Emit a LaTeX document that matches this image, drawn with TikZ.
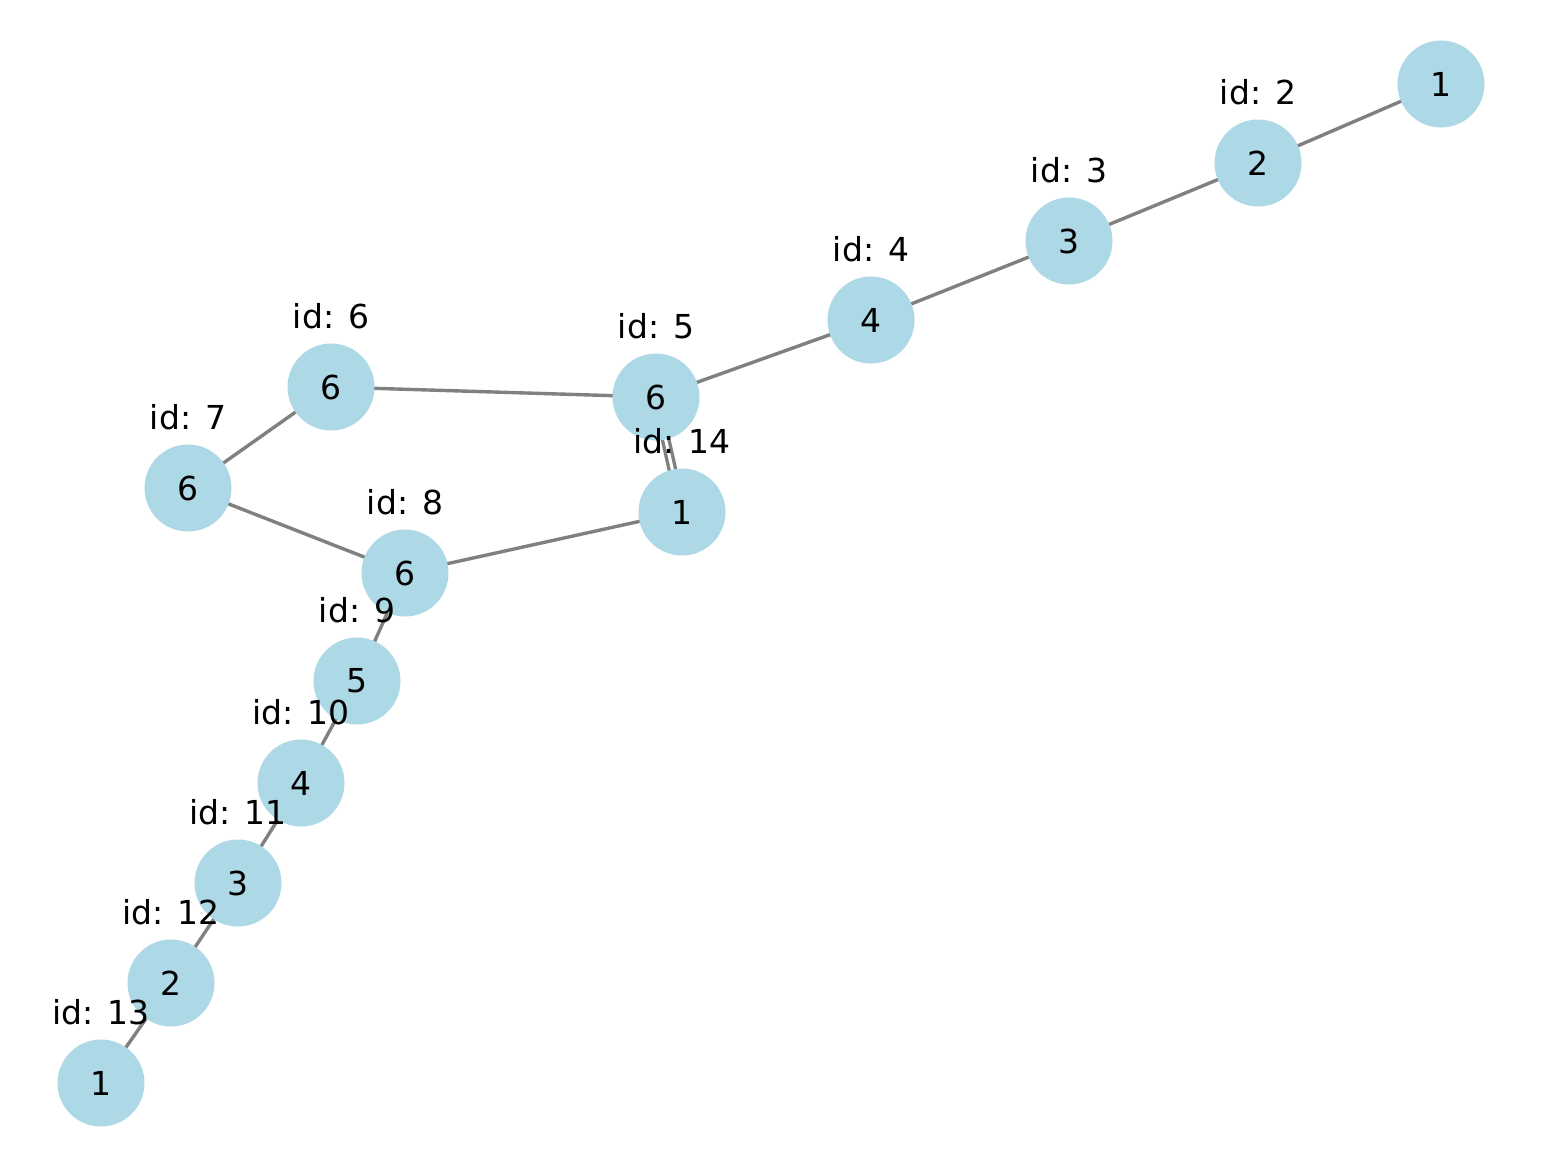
\documentclass[tikz,border=0pt]{standalone}
\usepackage{fontspec}
\setmainfont{DejaVu Sans}
\definecolor{nodeblue}{HTML}{ADD8E6}
\definecolor{edgegray}{HTML}{808080}
\begin{document}
\begin{tikzpicture}[x=1pt,y=-1pt,
  vert/.style={circle, fill=nodeblue, minimum size=87pt, inner sep=0pt, font=\fontsize{33}{40}\selectfont},
  idlabel/.style={font=\fontsize{33}{40}\selectfont, inner sep=0pt, anchor=center},
  edge/.style={draw=edgegray, line width=3.4pt}]
\useasboundingbox (0,0) rectangle (1548,1168);
% positions
\coordinate (p1) at (1441,84);
\coordinate (p2) at (1258,163);
\coordinate (p3) at (1069,241);
\coordinate (p4) at (871,320);
\coordinate (p5) at (656,397);
\coordinate (p6) at (331,387);
\coordinate (p7) at (188,488);
\coordinate (p8) at (405,573);
\coordinate (p9) at (357,681);
\coordinate (p10) at (301,783);
\coordinate (p11) at (238,883);
\coordinate (p12) at (171,983);
\coordinate (p13) at (101,1083);
\coordinate (p14) at (682,512);
% edges
\draw[edge] (p1) -- (p2);
\draw[edge] (p2) -- (p3);
\draw[edge] (p3) -- (p4);
\draw[edge] (p4) -- (p5);
\draw[edge] (p5) -- (p6);
\draw[edge] (p6) -- (p7);
\draw[edge] (p7) -- (p8);
\draw[edge] (p8) -- (p14);
\draw[edge, double=white, double distance=3pt] (p5) -- (p14);
\draw[edge] (p8) -- (p9);
\draw[edge] (p9) -- (p10);
\draw[edge] (p10) -- (p11);
\draw[edge] (p11) -- (p12);
\draw[edge] (p12) -- (p13);
% nodes
\node[vert] (n1) at (p1) {1};
\node[vert] (n2) at (p2) {2};
\node[vert] (n3) at (p3) {3};
\node[vert] (n4) at (p4) {4};
\node[vert] (n5) at (p5) {6};
\node[vert] (n6) at (p6) {6};
\node[vert] (n7) at (p7) {6};
\node[vert] (n8) at (p8) {6};
\node[vert] (n9) at (p9) {5};
\node[vert] (n10) at (p10) {4};
\node[vert] (n11) at (p11) {3};
\node[vert] (n12) at (p12) {2};
\node[vert] (n13) at (p13) {1};
\node[vert] (n14) at (p14) {1};
% labels
\node[idlabel] (l2) at ([yshift=71pt]n2.center) {id: 2};
\node[idlabel] (l3) at ([yshift=71pt]n3.center) {id: 3};
\node[idlabel] (l4) at ([yshift=71pt]n4.center) {id: 4};
\node[idlabel] (l5) at ([yshift=71pt]n5.center) {id: 5};
\node[idlabel] (l6) at ([yshift=71pt]n6.center) {id: 6};
\node[idlabel] (l7) at ([yshift=71pt]n7.center) {id: 7};
\node[idlabel] (l8) at ([yshift=71pt]n8.center) {id: 8};
\node[idlabel] (l9) at ([yshift=71pt]n9.center) {id: 9};
\node[idlabel] (l10) at ([yshift=71pt]n10.center) {id: 10};
\node[idlabel] (l11) at ([yshift=71pt]n11.center) {id: 11};
\node[idlabel] (l12) at ([yshift=71pt]n12.center) {id: 12};
\node[idlabel] (l13) at ([yshift=71pt]n13.center) {id: 13};
\node[idlabel] (l14) at ([yshift=71pt]n14.center) {id: 14};
\end{tikzpicture}
\end{document}
